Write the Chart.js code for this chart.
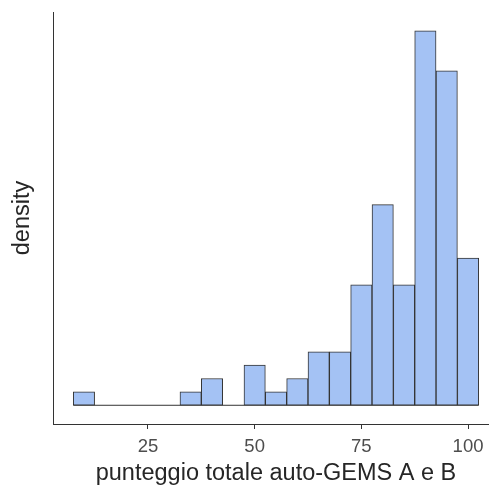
<!DOCTYPE html>
<html>
<head>
<meta charset="utf-8">
<script src="https://cdn.jsdelivr.net/npm/chart.js@4"></script>
<style>
  body { margin: 0; background: #fff; }
  #wrap { width: 489px; height: 494px; overflow: hidden; }
  canvas { display: block; }
</style>
</head>
<body>
<div id="wrap"><canvas id="histChart" width="499" height="494"></canvas></div>
<script>
// histogram bins (binwidth 5), centers and counts
const binWidth = 5;
const binCenters = [10, 15, 20, 25, 30, 35, 40, 45, 50, 55, 60, 65, 70, 75, 80, 85, 90, 95, 100];
const binCounts = [1, 0, 0, 0, 0, 1, 2, 0, 3, 1, 2, 4, 4, 9, 15, 9, 28, 25, 11];
const xTicks = [25, 50, 75, 100];

const fontFamily = "'Liberation Sans', Arial, sans-serif";

const barData = binCenters.map((c, i) => ({ x: c, y: binCounts[i] }));
// outline along the baseline, ggplot draws empty bins as flat rects
const baseLine = [
    { x: binCenters[0] - binWidth / 2, y: 0 },
    { x: binCenters[binCenters.length - 1] + binWidth / 2, y: 0 },
];

const ctx = document.getElementById("histChart");

new Chart(ctx, {
    type: "bar",
    data: {
        datasets: [
            {
                type: "line",
                data: baseLine,
                borderColor: "#333333",
                borderWidth: 1,
                pointRadius: 0,
                order: 2,
            },
            {
                data: barData,
                backgroundColor: "#a4c2f4",
                borderColor: "#333333",
                borderWidth: 1,
                borderSkipped: false,
                barPercentage: 1,
                categoryPercentage: 1,
                order: 1,
            },
        ],
    },
    options: {
        responsive: false,
        animation: false,
        layout: { padding: { top: 12, left: 0, right: 0, bottom: 0 } },
        plugins: {
            legend: { display: false },
            tooltip: { enabled: false },
        },
        scales: {
            x: {
                type: "linear",
                min: 2.75,
                max: 107.25,
                offset: false,
                afterBuildTicks: (scale) => {
                    scale.ticks = xTicks.map((v) => ({ value: v }));
                },
                afterFit: (scale) => {
                    scale.height = 70;
                },
                grid: {
                    display: true,
                    offset: false,
                    drawOnChartArea: false,
                    drawTicks: true,
                    tickLength: 5,
                    color: "#333333",
                },
                border: { display: true, color: "#333333", width: 1 },
                ticks: {
                    color: "#4d4d4d",
                    padding: 7,
                    maxRotation: 0,
                    font: { family: fontFamily, size: 18.5 },
                },
                title: {
                    display: true,
                    text: "punteggio totale auto-GEMS A e B",
                    color: "#262626",
                    padding: { top: 0, bottom: 6 },
                    font: { family: fontFamily, size: 23.5 },
                },
            },
            y: {
                min: -1.4,
                max: 29.4,
                afterFit: (scale) => {
                    scale.width = 53;
                },
                grid: { display: false },
                border: { display: true, color: "#333333", width: 1 },
                ticks: { display: false },
                title: {
                    display: true,
                    text: "density",
                    color: "#262626",
                    padding: { top: 8, bottom: 0 },
                    font: { family: fontFamily, size: 23.5 },
                },
            },
        },
    },
});
</script>
</body>
</html>
